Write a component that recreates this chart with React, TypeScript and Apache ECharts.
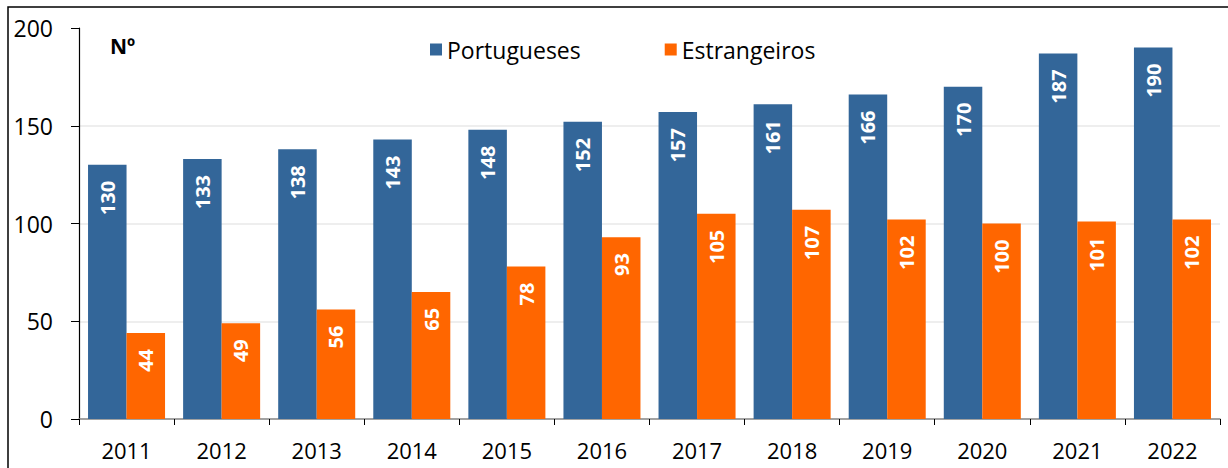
import React, { useEffect, useRef } from "react";
import * as echarts from "echarts";

const years = ["2011", "2012", "2013", "2014", "2015", "2016", "2017", "2018", "2019", "2020", "2021", "2022"];
const portugueses = [130, 133, 138, 143, 148, 152, 157, 161, 166, 170, 187, 190];
const estrangeiros = [44, 49, 56, 65, 78, 93, 105, 107, 102, 100, 101, 102];
const yTicks = [0, 50, 100, 150, 200];

const FONT = "'Open Sans', 'Noto Sans', sans-serif";

export default function App() {
  const ref = useRef<HTMLDivElement>(null);
  useEffect(() => {
    if (!ref.current) return;
    const chart = echarts.init(ref.current, undefined, { renderer: "svg" });
    const label = {
      show: true,
      position: "insideTop",
      rotate: 90,
      align: "right",
      verticalAlign: "middle",
      distance: 16,
      color: "#ffffff",
      fontWeight: "bold",
      fontSize: 20,
      fontFamily: FONT,
    };
    chart.setOption({
      animation: false,
      textStyle: { fontFamily: FONT },
      graphic: [
        {
          type: "rect",
          shape: { x: 8, y: 7, width: 1240, height: 480 },
          style: { fill: "none", stroke: "#000", lineWidth: 1.5 },
          silent: true,
        },
        {
          type: "text",
          left: 110,
          top: 35,
          style: { text: "Nº", fontSize: 21, fontWeight: "bold", fill: "#000", fontFamily: FONT },
        },
      ],
      legend: {
        left: 425,
        top: 33,
        icon: "rect",
        itemWidth: 12,
        itemHeight: 12,
        itemGap: 84,
        textStyle: { fontSize: 23, color: "#000", fontFamily: FONT },
        data: ["Portugueses", "Estrangeiros"],
      },
      grid: { left: 79, right: 8, top: 28, bottom: 49, containLabel: false },
      xAxis: {
        type: "category",
        data: years,
        axisLine: { lineStyle: { color: "#888", width: 1.5 } },
        axisTick: { show: true, length: 6, lineStyle: { color: "#000" } },
        axisLabel: { fontSize: 22, color: "#000", margin: 20, fontFamily: FONT },
      },
      yAxis: {
        type: "value",
        min: yTicks[0],
        max: yTicks[yTicks.length - 1],
        interval: 50,
        axisLine: { show: true, lineStyle: { color: "#000", width: 1.2 } },
        axisTick: { show: true, length: 8, lineStyle: { color: "#000" } },
        axisLabel: { fontSize: 23, color: "#000", margin: 26, fontFamily: FONT },
        splitLine: { show: true, showMaxLine: false, lineStyle: { color: "#e8e8e8", width: 1.5 } },
      },
      series: [
        {
          name: "Portugueses",
          type: "bar",
          data: portugueses,
          itemStyle: { color: "#336699" },
          barGap: "0%",
          barCategoryGap: "19%",
          label,
        },
        {
          name: "Estrangeiros",
          type: "bar",
          data: estrangeiros,
          itemStyle: { color: "#FF6600" },
          label,
        },
      ],
    });
    return () => chart.dispose();
  }, []);
  return (
    <div
      ref={ref}
      style={{ position: "fixed", left: 0, top: 0, width: 1228, height: 468, background: "#fff" }}
    />
  );
}
